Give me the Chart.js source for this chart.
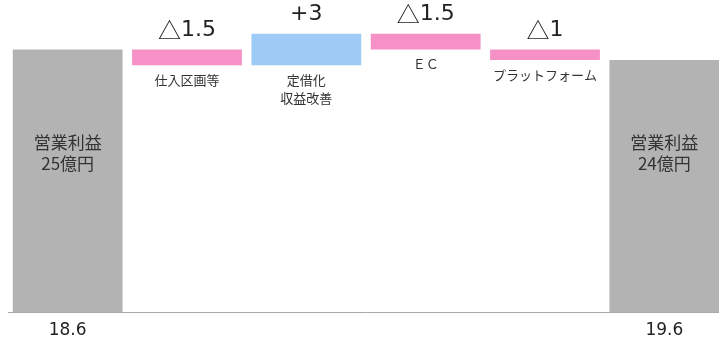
<!DOCTYPE html>
<html>
<head>
<meta charset="utf-8">
<script src="https://cdn.jsdelivr.net/npm/chart.js@4/dist/chart.umd.min.js"></script>
<style>
  html, body { margin: 0; padding: 0; background: #fff; overflow: hidden; }
  #wrap { position: relative; width: 726px; height: 352px; }
</style>
</head>
<body>
<div id="wrap"><canvas id="profitChart"></canvas></div>
<script>
// waterfall: first and last are totals, the rest are changes
const categories = ['営業利益\n25億円', '仕入区画等', '定借化\n収益改善', 'ＥＣ', 'プラットフォーム', '営業利益\n24億円'];
const kinds = ['total', 'delta', 'delta', 'delta', 'delta', 'total'];
const values = [25, -1.5, 3, -1.5, -1, 24];
const valueLabels = ['', '△1.5', '+3', '△1.5', '△1', ''];
const tickLabels = ['18.6', '', '', '', '', '19.6'];

const JP = '"Noto Sans CJK JP", "Noto Sans", sans-serif';
const NUM = '"DejaVu Sans", Verdana, sans-serif';

// build floating bars from the values
let running = 0;
const floats = values.map((v, i) => {
  if (kinds[i] === 'total') { running = v; return [0, v]; }
  const seg = [running, running + v];
  running += v;
  return seg;
});
const barColors = values.map((v, i) => kinds[i] === 'total' ? '#b3b3b3' : (v < 0 ? '#f591c6' : '#9ecbf6'));

// value label: triangle from the CJK font, digits from DejaVu
function drawValue(ctx, text, x, y) {
  let head = '', tail = text;
  if (text.startsWith('△')) { head = '△'; tail = text.slice(1); }
  ctx.font = '23px ' + JP;
  const wh = head ? ctx.measureText(head).width : 0;
  ctx.font = '22px ' + NUM;
  const wt = ctx.measureText(tail).width;
  let left = x - (wh + wt) / 2;
  ctx.textAlign = 'left';
  if (head) {
    ctx.font = '23px ' + JP;
    ctx.fillText(head, left, y);
    left += wh;
  }
  ctx.font = '22px ' + NUM;
  ctx.fillText(tail, left, y);
  ctx.textAlign = 'center';
}

const labelPlugin = {
  id: 'waterfallLabels',
  afterDatasetsDraw(chart) {
    const ctx = chart.ctx;
    const meta = chart.getDatasetMeta(0);
    ctx.save();
    ctx.textAlign = 'center';
    ctx.textBaseline = 'middle';
    meta.data.forEach((bar, i) => {
      const top = Math.min(bar.y, bar.base);
      const bottom = Math.max(bar.y, bar.base);
      const lines = categories[i].split('\n');
      if (kinds[i] === 'total') {
        // name written inside the grey bar
        ctx.fillStyle = '#333';
        ctx.font = '17px ' + JP;
        lines.forEach((t, k) => ctx.fillText(t, bar.x, 143 + k * 21));
      } else {
        ctx.fillStyle = '#222';
        drawValue(ctx, valueLabels[i], bar.x, top - 19);
        ctx.fillStyle = '#333';
        ctx.font = '13px ' + JP;
        lines.forEach((t, k) => ctx.fillText(t, bar.x, bottom + 15 + k * 18));
      }
    });
    ctx.restore();
  }
};

new Chart(document.getElementById('profitChart'), {
  type: 'bar',
  data: {
    labels: tickLabels,
    datasets: [{
      data: floats,
      backgroundColor: barColors,
      borderWidth: 0,
      barPercentage: 0.92,
      categoryPercentage: 1.0
    }]
  },
  options: {
    responsive: true,
    maintainAspectRatio: false,
    animation: false,
    layout: { padding: { left: 8, right: 2, top: 0, bottom: 3 } },
    plugins: { legend: { display: false }, tooltip: { enabled: false } },
    scales: {
      x: {
        grid: { display: false, drawTicks: false },
        border: { display: true, color: '#a8a8a8', width: 1 },
        ticks: { color: '#222', padding: 8, font: { family: NUM, size: 17 }, maxRotation: 0, autoSkip: false }
      },
      y: { display: false, min: 0, max: 29.7 }
    }
  },
  plugins: [labelPlugin]
});
</script>
</body>
</html>
